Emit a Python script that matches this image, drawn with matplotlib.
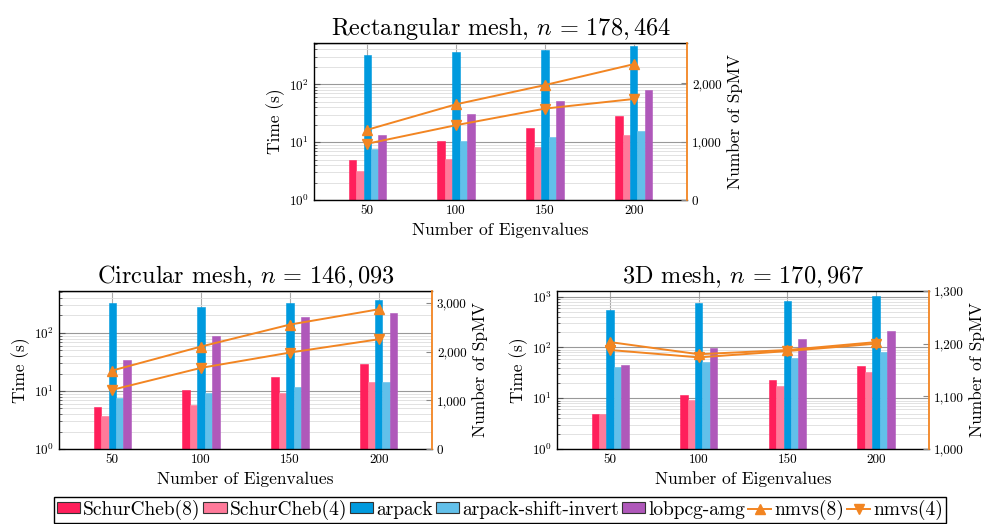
import matplotlib.pyplot as plt
import matplotlib.ticker as mticker
from matplotlib.patches import Patch
from matplotlib.lines import Line2D

plt.rcParams['font.family'] = 'serif'
plt.rcParams['font.serif'] = ['cmr10']
plt.rcParams['mathtext.fontset'] = 'cm'
plt.rcParams['axes.formatter.use_mathtext'] = True

eig = [50, 100, 150, 200]
methods = ['SchurCheb(8)', 'SchurCheb(4)', 'arpack', 'arpack-shift-invert', 'lobpcg-amg']
colors = ['#FF1F5B', '#FF7A9A', '#009ADE', '#62C0EA', '#AF58BA']
orange = '#F28522'

# time (s), one row per method
rect_time = [[5.0, 10.3, 17.6, 28.3],
             [3.2, 5.2, 8.3, 13.4],
             [327, 358, 388, 460],
             [7.5, 10.5, 12.5, 15.6],
             [13.4, 31, 52.5, 80]]
rect_nmvs8 = [1205, 1642, 1972, 2330]
rect_nmvs4 = [966, 1284, 1568, 1733]

circ_time = [[5.3, 10.3, 17.3, 28.6],
             [3.7, 5.8, 9.2, 14.2],
             [324, 276, 324, 369],
             [7.6, 9.3, 11.8, 14.4],
             [34.3, 90, 188, 218]]
circ_nmvs8 = [1616, 2110, 2562, 2877]
circ_nmvs4 = [1219, 1671, 1986, 2260]

mesh3d_time = [[4.9, 11.5, 22.9, 43.7],
               [4.8, 9.1, 17.7, 32.8],
               [540, 740, 822, 1047],
               [40.5, 52.4, 62.7, 79.8],
               [44.4, 95.5, 143.6, 209]]
mesh3d_nmvs8 = [1203, 1180, 1188, 1203]
mesh3d_nmvs4 = [1188, 1174, 1186, 1200]


def draw(rect, times, nm8, nm4, title, ytop, slim, sticks, lticks):
    ax = fig.add_axes(rect)
    ax.set_yscale('log')
    w = 4.2
    for k in range(len(methods)):
        xs = [e + (k - 2) * w for e in eig]
        ax.bar(xs, times[k], width=w, color=colors[k], edgecolor=colors[k],
               linewidth=0.4, zorder=2)
    ax.set_xlim(20, 230)
    ax.set_ylim(1, ytop)
    ax.set_xticks(eig)
    ax.set_xticklabels([str(e) for e in eig])
    ax.set_yticks(lticks)
    ax.yaxis.set_minor_locator(mticker.LogLocator(base=10, subs=range(2, 10), numticks=20))
    ax.yaxis.set_minor_formatter(mticker.NullFormatter())
    ax.set_axisbelow(True)
    ax.grid(which='major', axis='y', color='#999999', linewidth=0.8)
    ax.grid(which='minor', axis='y', color='#dddddd', linewidth=0.6)
    ax.grid(which='major', axis='x', color='#aaaaaa', linewidth=0.8)
    ax.tick_params(axis='both', which='both', direction='in', labelsize=9.5, color='#555555')
    ax.tick_params(which='major', length=4)
    ax.tick_params(which='minor', length=2)
    ax.set_xlabel('Number of Eigenvalues', fontsize=12.5, labelpad=4)
    ax.set_ylabel('Time (s)', fontsize=12.5, labelpad=3)
    ax.set_title(title, fontsize=17.5, pad=6)
    ax.spines['right'].set_visible(False)
    for s in ['top', 'bottom', 'left']:
        ax.spines[s].set_linewidth(1.0)

    ax2 = ax.twinx()
    ax2.plot(eig, nm8, color=orange, marker='^', markersize=7, linewidth=1.4, zorder=3)
    ax2.plot(eig, nm4, color=orange, marker='v', markersize=7, linewidth=1.4, zorder=3)
    ax2.set_ylim(*slim)
    ax2.set_yticks(sticks)
    ax2.yaxis.set_major_formatter(mticker.FuncFormatter(lambda v, p: '{:,.0f}'.format(v)))
    ax2.tick_params(axis='y', direction='in', length=4, labelsize=9.5, color='#888888')
    ax2.set_ylabel('Number of SpMV', fontsize=12.5, labelpad=4)
    ax2.spines['right'].set_color(orange)
    ax2.spines['right'].set_linewidth(1.3)
    for s in ['top', 'bottom', 'left']:
        ax2.spines[s].set_visible(False)
    return ax, ax2


fig = plt.figure(figsize=(9.85, 5.24), dpi=100)

draw([0.3188, 0.6183, 0.3787, 0.2996], rect_time, rect_nmvs8, rect_nmvs4,
     r'Rectangular mesh, $n\,=\,178,464$', 10 ** 2.714, (0, 2693), [0, 1000, 2000], [1, 10, 100])
draw([0.0599, 0.1431, 0.3787, 0.3015], circ_time, circ_nmvs8, circ_nmvs4,
     r'Circular mesh, $n\,=\,146,093$', 10 ** 2.722, (0, 3253), [0, 1000, 2000, 3000], [1, 10, 100])
draw([0.5655, 0.1431, 0.3777, 0.3015], mesh3d_time, mesh3d_nmvs8, mesh3d_nmvs4,
     r'3D mesh, $n\,=\,170,967$', 10 ** 3.111, (1000, 1300), [1000, 1100, 1200, 1300], [1, 10, 100, 1000])

handles = [Patch(facecolor=c, edgecolor='#333333', linewidth=0.8) for c in colors]
handles.append(Line2D([], [], color=orange, marker='^', markersize=7, linewidth=1.4))
handles.append(Line2D([], [], color=orange, marker='v', markersize=7, linewidth=1.4))
labels = methods + ['nmvs(8)', 'nmvs(4)']
leg = fig.legend(handles, labels, loc='center', bbox_to_anchor=(0.5076, 0.027), ncol=7,
                 fontsize=14, frameon=True, fancybox=False, edgecolor='black', framealpha=1,
                 handlelength=1.2, handleheight=0.5, handletextpad=0.15, columnspacing=0.15,
                 borderpad=0.15, borderaxespad=0)
leg.get_frame().set_linewidth(1.0)

fig.savefig('out.png', dpi=100)
